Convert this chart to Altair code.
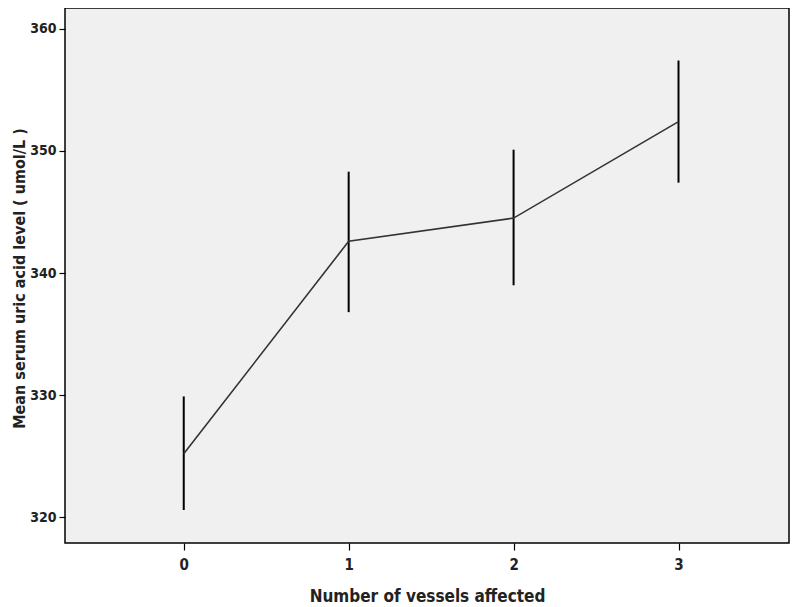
import altair as alt
import pandas as pd

vessels = [0, 1, 2, 3]
means = [325.2, 342.6, 344.5, 352.4]
lower = [320.6, 336.8, 339.0, 347.4]
upper = [329.9, 348.3, 350.1, 357.4]

df = pd.DataFrame({"v": vessels, "m": means, "lo": lower, "hi": upper})

FONT = "'DejaVu Sans Condensed', 'Liberation Sans', sans-serif"

x = alt.X("v:Q", scale=alt.Scale(domain=[-0.72, 3.67], nice=False, zero=False),
          axis=alt.Axis(values=vessels, format="d", grid=False, domain=False,
                        tickColor="black", tickSize=7, tickWidth=1.2,
                        labelFont=FONT, labelFontSize=15, labelFontWeight="bold",
                        labelColor="#222", labelPadding=7,
                        title="Number of vessels affected", titleFont=FONT,
                        titleFontSize=17, titleFontWeight="bold", titleColor="#222",
                        titlePadding=16))
y_scale = alt.Scale(domain=[317.9, 361.7], nice=False, zero=False)
y = alt.Y("m:Q", scale=y_scale,
          axis=alt.Axis(values=[320, 330, 340, 350, 360], grid=False, domain=False,
                        tickColor="black", tickSize=6, tickWidth=1.2,
                        labelFont=FONT, labelFontSize=14, labelFontWeight="bold",
                        labelColor="#222", labelPadding=3,
                        title="Mean serum uric acid level ( umol/L )", titleFont=FONT,
                        titleFontSize=16, titleFontWeight="bold", titleColor="#222",
                        titleX=-38, titleY=270))

line = alt.Chart(df).mark_line(color="#333333", strokeWidth=1.6).encode(x=x, y=y)
bars = alt.Chart(df).mark_rule(color="black", strokeWidth=2).encode(
    x="v:Q", y=alt.Y("lo:Q", scale=y_scale), y2="hi:Q")

chart = alt.layer(bars, line).properties(
    width=724, height=535,
    autosize=alt.AutoSizeParams(type="none"),
    padding={"left": 57, "top": 0, "right": 3, "bottom": 64},
).configure_view(fill="#f0f0f0", stroke="black", strokeWidth=1.5)

chart.save("out.html", embed_options={"renderer": "svg", "actions": False})
